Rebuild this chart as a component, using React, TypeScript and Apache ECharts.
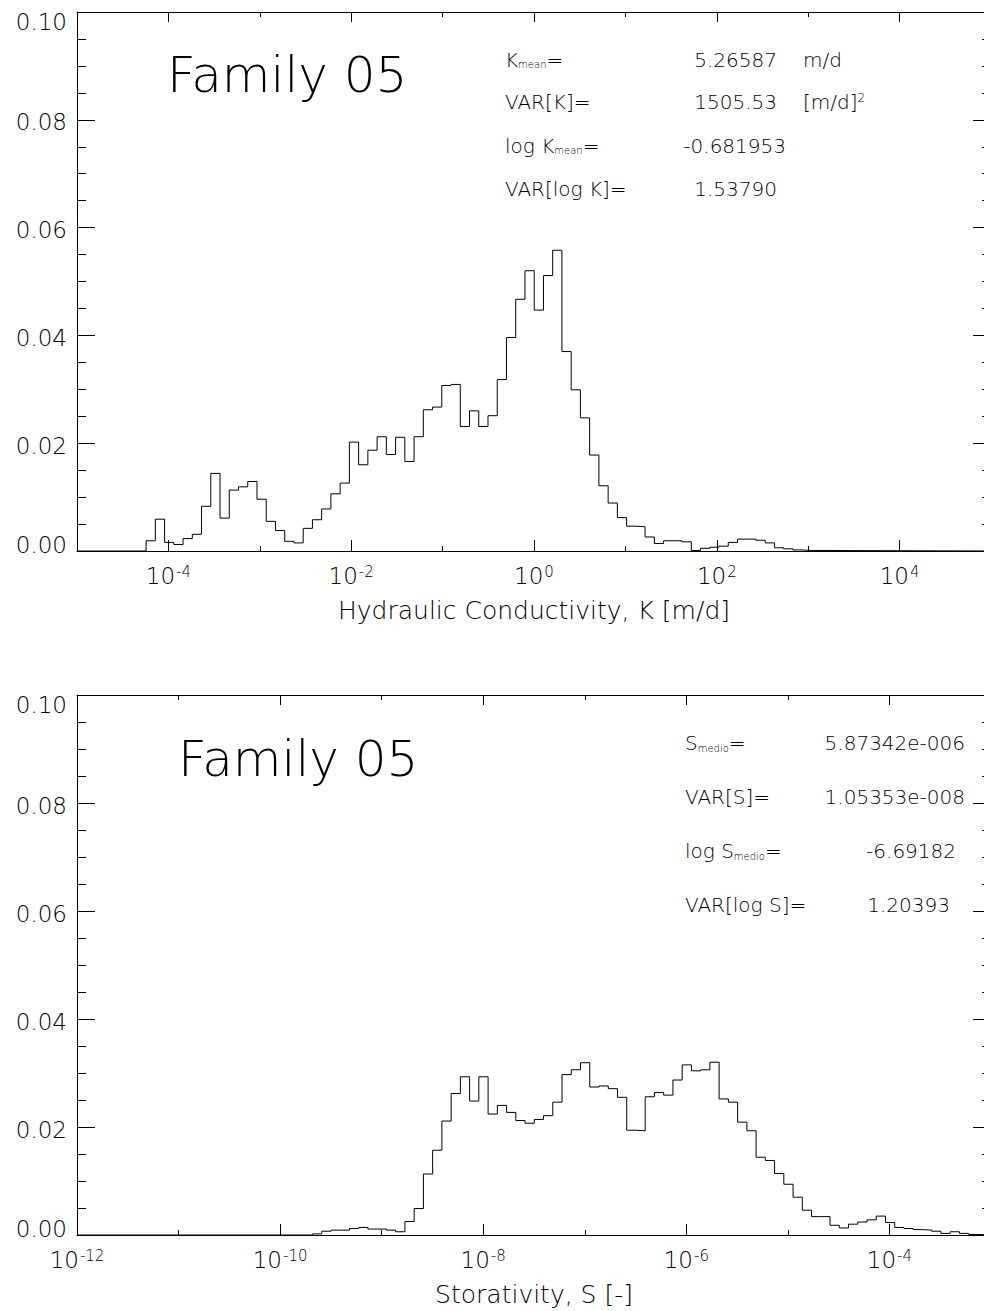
import React, { useEffect, useRef } from "react";
import * as echarts from "echarts";

const FONT = '"DejaVu Sans", "Liberation Sans", sans-serif';
const WEIGHT = 200;
const INK = "#000";

// ---- Hydraulic conductivity histogram (x = log10 K [m/d]) ----
const K_BIN_START = -4.244;
const K_BIN_WIDTH = 0.1011;
const K_FREQ = [
  0.0019, 0.0059, 0.0016, 0.0012, 0.0023, 0.0031, 0.0083, 0.0144, 0.0061, 0.0113,
  0.0119, 0.0129, 0.0096, 0.0055, 0.0038, 0.0018, 0.0015, 0.0042, 0.0058, 0.0078,
  0.0106, 0.0126, 0.0202, 0.016, 0.0187, 0.0212, 0.0179, 0.0211, 0.0166, 0.0212,
  0.0262, 0.0267, 0.0307, 0.0309, 0.0231, 0.026, 0.0231, 0.0251, 0.0318, 0.0396,
  0.0467, 0.052, 0.0447, 0.0511, 0.0558, 0.037, 0.0299, 0.0247, 0.0178, 0.0121,
  0.0089, 0.0062, 0.0046, 0.0045, 0.0026, 0.0014, 0.0019, 0.0019, 0.0017, 0.0001,
  0.0005, 0.0007, 0.0009, 0.0016, 0.0022, 0.0022, 0.002, 0.0015, 0.0006, 0.0004,
  0.0002, 0.0001,
];
const K_AXIS_MIN = -5;
const K_AXIS_MAX = 5;
const K_LABEL_EXP = [-4, -2, 0, 2, 4];
const K_MINOR_EXP = [-3, -1, 1, 3];
const K_AXIS_NAME = "Hydraulic Conductivity, K [m/d]";

// ---- Storativity histogram (x = log10 S) ----
const S_BIN_START = -9.681;
const S_BIN_WIDTH = 0.091;
const S_FREQ = [
  0.0002, 0.0007, 0.0009, 0.0009, 0.0012, 0.0014, 0.0011, 0.0011, 0.0009, 0.0006,
  0.0025, 0.0049, 0.0113, 0.0157, 0.0211, 0.0262, 0.0293, 0.0248, 0.0293, 0.0224,
  0.024, 0.0227, 0.0212, 0.0207, 0.0214, 0.0221, 0.0246, 0.0297, 0.0306, 0.0319,
  0.0274, 0.0276, 0.0271, 0.0255, 0.0194, 0.0193, 0.0256, 0.0264, 0.0259, 0.0287,
  0.0315, 0.0304, 0.0306, 0.032, 0.0252, 0.0246, 0.0209, 0.0193, 0.0144, 0.0138,
  0.0114, 0.0094, 0.007, 0.0046, 0.0034, 0.0034, 0.0018, 0.0013, 0.002, 0.0024,
  0.0028, 0.0035, 0.0023, 0.0014, 0.0012, 0.001, 0.0009, 0.0007, 0.0003, 0.0006,
  0.0003, 0.0001,
];
const S_AXIS_MIN = -12;
const S_AXIS_MAX = -3;
const S_LABEL_EXP = [-12, -10, -8, -6, -4];
const S_MINOR_EXP = [-11, -9, -7, -5];
const S_AXIS_NAME = "Storativity, S [-]";

// ---- frequency axis ----
const Y_MIN = 0;
const Y_MAX = 0.1;
const Y_STEP = 0.02;

const PANEL_TITLE = "Family 05";
const K_STAT_VALUES = ["5.26587", "1505.53", "-0.681953", "1.53790"];
const S_STAT_VALUES = ["5.87342e-006", "1.05353e-008", "-6.69182", "1.20393"];

const line = { color: INK, width: 1 };

function stepData(start: number, width: number, freq: number[], min: number, max: number) {
  const pts: number[][] = [[min, 0]];
  freq.forEach((f, i) => pts.push([start + i * width, f]));
  pts.push([start + freq.length * width, 0]);
  pts.push([max, 0]);
  return pts;
}

const tickRich = {
  b: { fontSize: 23, lineHeight: 23, fontFamily: FONT, fontWeight: WEIGHT, color: INK, verticalAlign: "bottom" },
  e: {
    fontSize: 15,
    lineHeight: 15,
    fontFamily: FONT,
    fontWeight: WEIGHT,
    color: INK,
    verticalAlign: "top",
    padding: [0, 0, 12, 1],
  },
};

function xAxes(gridIndex: number, min: number, max: number, labelExp: number[], minorExp: number[], name: string) {
  const base = { gridIndex, type: "value", min, max, interval: 1, splitLine: { show: false } };
  return [
    {
      ...base,
      position: "bottom",
      axisLine: { show: true, onZero: false, lineStyle: line },
      axisTick: { show: true, inside: true, length: 11, customValues: labelExp, lineStyle: line },
      axisLabel: {
        show: true,
        customValues: labelExp,
        margin: 13,
        formatter: (v: number) => `{b|10}{e|${Math.round(v)}}`,
        rich: tickRich,
      },
      name,
      nameLocation: "middle",
      nameGap: 47,
      nameTextStyle: { fontSize: 25, fontFamily: FONT, fontWeight: WEIGHT, color: INK },
    },
    {
      ...base,
      position: "bottom",
      axisLine: { show: false, onZero: false },
      axisTick: { show: true, inside: true, length: 5, customValues: minorExp, lineStyle: line },
      axisLabel: { show: false },
    },
    {
      ...base,
      position: "top",
      axisLine: { show: true, onZero: false, lineStyle: line },
      axisTick: { show: true, inside: true, length: 10, customValues: labelExp, lineStyle: line },
      axisLabel: { show: false },
    },
    {
      ...base,
      position: "top",
      axisLine: { show: false, onZero: false },
      axisTick: { show: true, inside: true, length: 5, customValues: minorExp, lineStyle: line },
      axisLabel: { show: false },
    },
  ];
}

const yRichBase = { fontSize: 23, lineHeight: 23, fontFamily: FONT, fontWeight: WEIGHT, color: INK };

function yAxes(gridIndex: number) {
  const base = {
    gridIndex,
    type: "value",
    min: Y_MIN,
    max: Y_MAX,
    interval: Y_STEP,
    splitLine: { show: false },
    minorSplitLine: { show: false },
    axisLine: { show: true, onZero: false, lineStyle: line },
    axisTick: { show: true, inside: true, length: 18, lineStyle: line },
    minorTick: { show: true, splitNumber: 4, length: 9, lineStyle: line },
  };
  return [
    {
      ...base,
      position: "left",
      axisLabel: {
        show: true,
        margin: 10,
        formatter: (v: number) => {
          const s = v.toFixed(2);
          if (Math.abs(v - Y_MIN) < 1e-9) return `{lo|${s}}`;
          if (Math.abs(v - Y_MAX) < 1e-9) return `{hi|${s}}`;
          return `{m|${s}}`;
        },
        rich: {
          lo: { ...yRichBase, padding: [0, 0, 13, 0] },
          hi: { ...yRichBase, padding: [20, 0, 0, 0] },
          m: { ...yRichBase, padding: [5, 0, 0, 0] },
        },
      },
    },
    { ...base, position: "right", axisLabel: { show: false } },
  ];
}

const statRich = {
  n: { fontSize: 20, lineHeight: 20, fontFamily: FONT, fontWeight: WEIGHT, color: INK, verticalAlign: "bottom" },
  s: { fontSize: 10, lineHeight: 10, fontFamily: FONT, fontWeight: WEIGHT, color: INK, verticalAlign: "bottom" },
  p: { fontSize: 12, lineHeight: 12, fontFamily: FONT, fontWeight: WEIGHT, color: INK, verticalAlign: "top" },
};

function txt(x: number, y: number, text: string, align = "left", fontSize = 20) {
  return {
    type: "text",
    x,
    y,
    silent: true,
    style: {
      text,
      rich: statRich,
      fontSize,
      fontFamily: FONT,
      fontWeight: WEIGHT,
      fill: INK,
      align,
      verticalAlign: "middle",
    },
  };
}

export default function App() {
  const ref = useRef<HTMLDivElement>(null);

  useEffect(() => {
    if (!ref.current) return;
    const chart = echarts.init(ref.current, null, { renderer: "svg" });

    const graphic = [
      txt(167, 75.2, PANEL_TITLE, "left", 50),
      txt(505, 59.7, "{n|K}{s|mean}{n|=}"),
      txt(777, 59.7, K_STAT_VALUES[0], "right"),
      txt(803, 59.7, "m/d"),
      txt(505, 102.3, "VAR[K]="),
      txt(777, 102.3, K_STAT_VALUES[1], "right"),
      txt(803, 102.3, "{n|[m/d]}{p|2}"),
      txt(505, 145.7, "{n|log K}{s|mean}{n|=}"),
      txt(786, 145.7, K_STAT_VALUES[2], "right"),
      txt(505, 189, "VAR[log K]="),
      txt(777, 189, K_STAT_VALUES[3], "right"),

      txt(178, 759.2, PANEL_TITLE, "left", 50),
      txt(685, 743, "{n|S}{s|medio}{n|=}"),
      txt(965, 743, S_STAT_VALUES[0], "right"),
      txt(685, 797, "VAR[S]="),
      txt(965, 797, S_STAT_VALUES[1], "right"),
      txt(685, 851.3, "{n|log S}{s|medio}{n|=}"),
      txt(956, 851.3, S_STAT_VALUES[2], "right"),
      txt(685, 904.7, "VAR[log S]="),
      txt(950, 904.7, S_STAT_VALUES[3], "right"),
    ];

    chart.setOption({
      animation: false,
      backgroundColor: "#fff",
      textStyle: { fontFamily: FONT, color: INK },
      grid: [
        { left: 77, top: 12, width: 914, height: 539, containLabel: false, outerBoundsMode: "none" },
        { left: 77, top: 695, width: 914, height: 540, containLabel: false, outerBoundsMode: "none" },
      ],
      xAxis: [
        ...xAxes(0, K_AXIS_MIN, K_AXIS_MAX, K_LABEL_EXP, K_MINOR_EXP, K_AXIS_NAME),
        ...xAxes(1, S_AXIS_MIN, S_AXIS_MAX, S_LABEL_EXP, S_MINOR_EXP, S_AXIS_NAME),
      ],
      yAxis: [...yAxes(0), ...yAxes(1)],
      series: [
        {
          type: "line",
          xAxisIndex: 0,
          yAxisIndex: 0,
          step: "end",
          symbol: "none",
          silent: true,
          lineStyle: line,
          data: stepData(K_BIN_START, K_BIN_WIDTH, K_FREQ, K_AXIS_MIN, K_AXIS_MAX),
        },
        {
          type: "line",
          xAxisIndex: 4,
          yAxisIndex: 2,
          step: "end",
          symbol: "none",
          silent: true,
          lineStyle: line,
          data: stepData(S_BIN_START, S_BIN_WIDTH, S_FREQ, S_AXIS_MIN, S_AXIS_MAX),
        },
      ],
      graphic,
    });

    return () => chart.dispose();
  }, []);

  return (
    <div
      style={{ position: "absolute", left: 0, top: 0, width: 984, height: 1311, overflow: "hidden", background: "#fff" }}
    >
      <div ref={ref} style={{ width: 984, height: 1311 }} />
    </div>
  );
}
